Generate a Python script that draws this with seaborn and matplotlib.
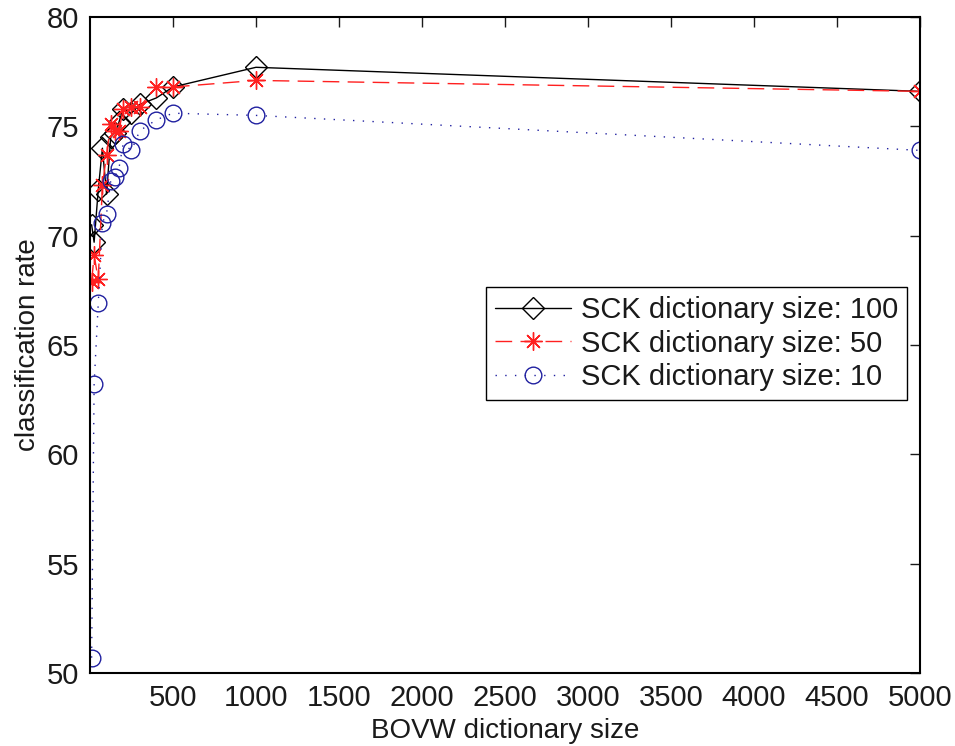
import numpy as np
import pandas as pd
import matplotlib
matplotlib.use("Agg")
import matplotlib.pyplot as plt
import seaborn as sns

# BOVW dictionary sizes (x axis)
bovw_sizes = [10, 25, 50, 75, 100, 125, 150, 175, 200, 250, 300, 400, 500, 1000, 5000]

# classification rate per SCK dictionary size
rate_sck100 = [70.5, 69.7, 72.1, 74.0, 71.9, 74.5, 74.7, 75.2, 75.8, 75.6, 76.0, 76.3, 76.8, 77.7, 76.6]
rate_sck50 = [67.9, 69.1, 68.0, 72.3, 73.7, 75.1, 74.8, 74.8, 75.8, 75.9, 75.9, 76.8, 76.8, 77.1, 76.6]
rate_sck10 = [50.7, 63.2, 66.9, 70.6, 71.0, 72.5, 72.7, 73.1, 74.2, 73.9, 74.8, 75.3, 75.6, 75.5, 73.9]

series_names = ["SCK dictionary size: 100", "SCK dictionary size: 50", "SCK dictionary size: 10"]
x_ticks = [500, 1000, 1500, 2000, 2500, 3000, 3500, 4000, 4500, 5000]
y_ticks = [50, 55, 60, 65, 70, 75, 80]

df = pd.concat([
    pd.DataFrame({"bovw": bovw_sizes, "rate": r, "series": name})
    for r, name in zip([rate_sck100, rate_sck50, rate_sck10], series_names)
], ignore_index=True)

sns.set_style("white")
plt.rcParams["font.family"] = ["Liberation Sans", "DejaVu Sans"]
for key in ["text.color", "axes.labelcolor", "xtick.color", "ytick.color"]:
    plt.rcParams[key] = "#1a1a1a"

fig = plt.figure(figsize=(9.55, 7.46), dpi=100)
ax = fig.add_axes([0.0942, 0.0979, 0.8692, 0.8793])

palette = {series_names[0]: "black", series_names[1]: "#ff2020", series_names[2]: "#2020a0"}
dashes = {series_names[0]: "", series_names[1]: (12, 6), series_names[2]: (1, 6)}

sns.lineplot(
    data=df, x="bovw", y="rate", hue="series", style="series",
    palette=palette, markers=False, dashes=dashes,
    sort=False, estimator=None, legend=False, ax=ax, linewidth=1.0,
)

# MATLAB-style open markers
marker_list = ["D", (8, 2, 0), "o"]
sizes = [11.5, 13, 12]
for line, mk, ms in zip(ax.lines, marker_list, sizes):
    c = line.get_color()
    line.set_marker(mk)
    line.set_markerfacecolor("none")
    line.set_markeredgecolor(c)
    line.set_markeredgewidth(1.0)
    line.set_markersize(ms)

ax.set_xlim(0, 5000)
ax.set_ylim(50, 80)
ax.set_xticks(x_ticks)
ax.set_yticks(y_ticks)
ax.tick_params(direction="in", length=7, width=1, top=True, right=True, labelsize=21, pad=8)

for s in ax.spines.values():
    s.set_color("black")
    s.set_linewidth(1.5)

ax.set_xlabel("BOVW dictionary size", fontsize=20, labelpad=4)
ax.set_ylabel("classification rate", fontsize=20, labelpad=4)

leg = ax.legend(
    handles=ax.lines[:3], labels=series_names,
    loc="upper right", bbox_to_anchor=(907 / 955, 1 - 287 / 746),
    bbox_transform=fig.transFigure, borderaxespad=0, fontsize=21,
    fancybox=False, framealpha=1, edgecolor="black", handlelength=2.6,
    labelspacing=0.2, borderpad=0.3, handletextpad=0.35,
)
leg.get_frame().set_linewidth(1.0)

plt.savefig("out.png", dpi=100)
plt.close()
